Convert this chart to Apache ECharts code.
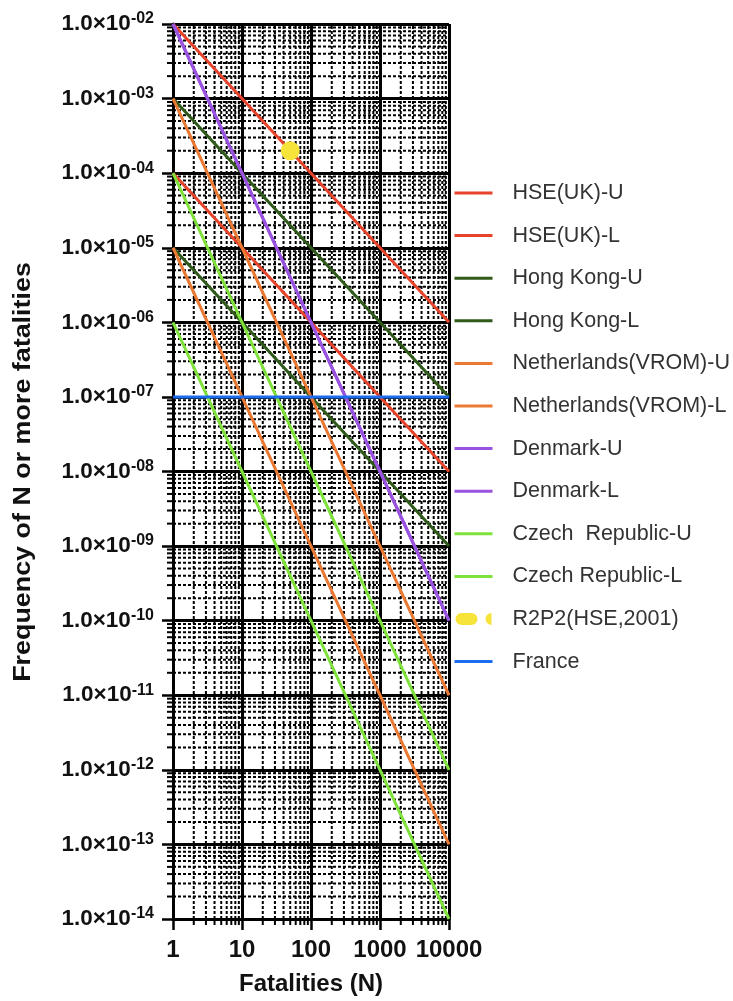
<!DOCTYPE html>
<html>
<head>
<meta charset="utf-8">
<script src="https://cdn.jsdelivr.net/npm/echarts@6/dist/echarts.min.js"></script>
<style>
html,body{margin:0;padding:0;background:#fff;}
#chart{width:733px;height:1001px;}
</style>
</head>
<body>
<div id="chart"></div>
<script>
// ---- data ----
const fatalities = [1, 10, 100, 1000, 10000];
const hseUK_U = [1e-2, 1e-3, 1e-4, 1e-5, 1e-6];
const hseUK_L = [1e-4, 1e-5, 1e-6, 1e-7, 1e-8];
const hongKong_U = [1e-3, 1e-4, 1e-5, 1e-6, 1e-7];
const hongKong_L = [1e-5, 1e-6, 1e-7, 1e-8, 1e-9];
const netherlands_U = [1e-3, 1e-5, 1e-7, 1e-9, 1e-11];
const netherlands_L = [1e-5, 1e-7, 1e-9, 1e-11, 1e-13];
const denmark_U = [1e-2, 1e-4, 1e-6, 1e-8, 1e-10];
const denmark_L = [1e-2, 1e-4, 1e-6, 1e-8, 1e-10];
const czech_U = [1e-4, 1e-6, 1e-8, 1e-10, 1e-12];
const czech_L = [1e-6, 1e-8, 1e-10, 1e-12, 1e-14];
const france = [1e-7, 1e-7, 1e-7, 1e-7, 1e-7];
const r2p2N = [50];
const r2p2F = [2e-4];
const xTickLabels = ['1', '10', '100', '1000', '10000'];
const yTickExponents = ['-14','-13','-12','-11','-10','-09','-08','-07','-06','-05','-04','-03','-02'];

const seriesNames = ['HSE(UK)-U','HSE(UK)-L','Hong Kong-U','Hong Kong-L','Netherlands(VROM)-U',
  'Netherlands(VROM)-L','Denmark-U','Denmark-L','Czech  Republic-U','Czech Republic-L','R2P2(HSE,2001)','France'];

const C_RED = '#e8432b', C_DKGREEN = '#2f5a1a', C_ORANGE = '#ea7a33', C_PURPLE = '#9a52e0',
      C_LTGREEN = '#7fe23a', C_YELLOW = '#f7e43a', C_BLUE = '#1c6cf0';

const FONT = '"Liberation Sans", Arial, sans-serif';
const X_MIN = 1, X_MAX = 10000, Y_MIN = 1e-14, Y_MAX = 1e-2;

// minor grid positions (2..9 within each decade)
const yMinor = [];
for (let e = -14; e < -2; e++) for (let k = 2; k <= 9; k++) yMinor.push([X_MIN, k * Math.pow(10, e)]);
const xMinor = [];
for (let e = 0; e < 4; e++) for (let k = 2; k <= 9; k++) xMinor.push([k * Math.pow(10, e), Y_MIN]);

function pairs(xs, ys) { return xs.map((x, i) => [x, ys[i]]); }

function lineSeries(name, ys, color) {
  return {
    name, type: 'line', data: pairs(fatalities, ys), symbol: 'none', showSymbol: false, z: 5,
    lineStyle: { color, width: 3 }, itemStyle: { color }, silent: true, animation: false
  };
}

const chart = echarts.init(document.getElementById('chart'), null, { renderer: 'canvas' });

const option = {
  backgroundColor: '#fff',
  animation: false,
  grid: { left: 173, right: 284, top: 24, bottom: 80, containLabel: false },
  xAxis: {
    type: 'log', logBase: 10, min: X_MIN, max: X_MAX, splitNumber: 4, interval: 1,
    name: 'Fatalities (N)', nameLocation: 'middle', nameGap: 53,
    nameTextStyle: { fontFamily: FONT, fontWeight: 'bold', fontSize: 24, color: '#111' },
    axisLine: { show: true, onZero: false, lineStyle: { color: '#000', width: 3 } },
    axisTick: { show: true, inside: false, length: 11, lineStyle: { color: '#000', width: 2.5 } },
    splitLine: { show: true, lineStyle: { color: '#000', width: 3 } },
    axisLabel: {
      margin: 19, fontFamily: FONT, fontWeight: 'bold', fontSize: 24, color: '#111',
      formatter: (v) => xTickLabels[Math.round(Math.log10(v))]
    }
  },
  yAxis: {
    type: 'log', logBase: 10, min: Y_MIN, max: Y_MAX, splitNumber: 12, interval: 1,
    axisLine: { show: true, onZero: false, lineStyle: { color: '#000', width: 3 } },
    axisTick: { show: true, inside: false, length: 11, lineStyle: { color: '#000', width: 2.5 } },
    splitLine: { show: true, lineStyle: { color: '#000', width: 3 } },
    axisLabel: {
      margin: 19, color: '#111',
      formatter: (v) => {
        const e = Math.round(Math.log10(v));
        return '{b|1.0×10}{s|' + yTickExponents[e + 14] + '}';
      },
      rich: {
        b: { fontFamily: FONT, fontWeight: 'bold', fontSize: 22.5, color: '#111' },
        s: { fontFamily: FONT, fontWeight: 'bold', fontSize: 16, color: '#111', padding: [0, 0, 10, 0] }
      }
    }
  },
  graphic: [{
    type: 'text', x: 23, y: 472, rotation: Math.PI / 2, scaleX: 1.12, scaleY: 1,
    style: { text: 'Frequency of N or more fatalities', fontFamily: FONT, fontWeight: 'bold', fontSize: 24, fill: '#111',
      textAlign: 'center', textVerticalAlign: 'middle' }
  }],
  legend: {
    orient: 'vertical', left: 448, top: 177, itemWidth: 38, itemHeight: 12, itemGap: 20.6,
    itemStyle: { opacity: 0 },
    lineStyle: { width: 3 },
    data: seriesNames.map(n => n === 'R2P2(HSE,2001)' ? {
      name: n, icon: 'path://M6,0 H16 A6,6 0 0 1 16,12 H6 A6,6 0 0 1 6,0 Z M36,0 A6,6 0 0 0 36,12 Z',
      itemStyle: { opacity: 1, color: C_YELLOW }
    } : { name: n }),
    textStyle: { fontFamily: FONT, fontSize: 21.5, color: '#333', padding: [0, 0, 0, 15] },
    selectedMode: false
  },
  series: [
    {
      type: 'custom', name: 'minorY', data: yMinor, z: 1, silent: true, clip: false,
      encode: { x: 0, y: 1 },
      renderItem: (params, api) => {
        const v = api.value(1);
        const p0 = api.coord([X_MIN, v]);
        const p1 = api.coord([X_MAX, v]);
        return { type: 'group', children: [
          { type: 'line', shape: { x1: p0[0], y1: p0[1], x2: p1[0], y2: p1[1] },
            style: { stroke: '#000', lineWidth: 2, lineDash: [3, 2] } },
          { type: 'line', shape: { x1: p0[0] - 6, y1: p0[1], x2: p0[0], y2: p0[1] },
            style: { stroke: '#000', lineWidth: 2 } }
        ] };
      }
    },
    {
      type: 'custom', name: 'minorX', data: xMinor, z: 1, silent: true, clip: false,
      encode: { x: 0, y: 1 },
      renderItem: (params, api) => {
        const v = api.value(0);
        const p0 = api.coord([v, Y_MIN]);
        const p1 = api.coord([v, Y_MAX]);
        return { type: 'group', children: [
          { type: 'line', shape: { x1: p0[0], y1: p0[1], x2: p1[0], y2: p1[1] },
            style: { stroke: '#000', lineWidth: 2, lineDash: [3, 2] } },
          { type: 'line', shape: { x1: p0[0], y1: p0[1], x2: p0[0], y2: p0[1] + 6 },
            style: { stroke: '#000', lineWidth: 2 } }
        ] };
      }
    },
    lineSeries('HSE(UK)-U', hseUK_U, C_RED),
    lineSeries('HSE(UK)-L', hseUK_L, C_RED),
    lineSeries('Hong Kong-U', hongKong_U, C_DKGREEN),
    lineSeries('Hong Kong-L', hongKong_L, C_DKGREEN),
    lineSeries('Netherlands(VROM)-U', netherlands_U, C_ORANGE),
    lineSeries('Netherlands(VROM)-L', netherlands_L, C_ORANGE),
    lineSeries('Denmark-U', denmark_U, C_PURPLE),
    lineSeries('Denmark-L', denmark_L, C_PURPLE),
    lineSeries('Czech  Republic-U', czech_U, C_LTGREEN),
    lineSeries('Czech Republic-L', czech_L, C_LTGREEN),
    {
      name: 'R2P2(HSE,2001)', type: 'scatter', data: pairs(r2p2N, r2p2F), z: 6,
      symbol: 'circle', symbolSize: 19, itemStyle: { color: C_YELLOW, opacity: 1 }
    },
    lineSeries('France', france, C_BLUE)
  ]
};
chart.setOption(option);
</script>
</body>
</html>
